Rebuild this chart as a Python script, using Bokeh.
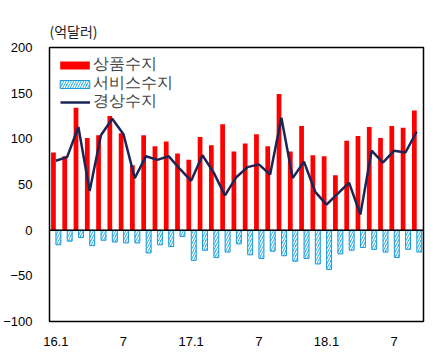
from bokeh.plotting import figure
from bokeh.models import ColumnDataSource, FixedTicker, Span, Legend, LegendItem
from bokeh.embed import file_html
from bokeh.resources import INLINE
from bokeh.transform import dodge

months = list(range(1, 34))
tick_positions = [1, 7, 13, 19, 25, 31]
tick_labels = ["16.1", "7", "17.1", "7", "18.1", "7"]

goods = [85, 81, 134, 101, 104, 125, 106, 71, 104, 92, 97, 84, 77, 102, 93, 116,
         86, 95, 105, 92, 149, 86, 114, 82, 81, 60, 98, 103, 113, 101, 114, 112, 131]
services = [-16, -12, -8, -17, -11, -13, -14, -14, -25, -16, -18, -7, -33, -22, -30, -24,
            -15, -27, -31, -23, -28, -34, -31, -37, -43, -26, -22, -19, -21, -24, -30, -21, -24]
current = [76, 80, 113, 43, 104, 122, 105, 57, 81, 77, 81, 67, 54, 82, 63, 38,
           58, 69, 72, 61, 123, 57, 75, 42, 28, 40, 52, 17, 87, 74, 87, 85, 108]

src = ColumnDataSource(dict(m=months, goods=goods, services=services, current=current))

p = figure(width=425, height=355, x_range=(0.44, 33.6), y_range=(-100, 200),
           output_backend="svg", toolbar_location=None,
           min_border_left=37, min_border_right=2, min_border_bottom=34, min_border_top=47)

r_goods = p.vbar(x=dodge("m", -0.21, range=p.x_range), top="goods", width=0.42, source=src,
                 fill_color="#FF0000", line_color=None)
r_serv = p.vbar(x=dodge("m", 0.23, range=p.x_range), top="services", width=0.44, source=src,
                fill_color="#35B4E6", line_color="#1E9AD6", line_width=1,
                hatch_pattern="/", hatch_color="white", hatch_scale=5, hatch_weight=1.3)
p.add_layout(Span(location=0, dimension="width", line_color="black", line_width=1.5))
r_cur = p.line(x="m", y="current", source=src, line_color="#1B2556", line_width=2.5)

p.title.text = "(억달러)"
p.title.align = "left"
p.title.text_font = "Noto Sans CJK KR"
p.title.text_font_size = "14px"
p.title.text_font_style = "normal"
p.title.text_color = "#222222"
p.title.standoff = 13

p.xgrid.visible = False
p.ygrid.visible = False
p.outline_line_color = "black"
p.outline_line_width = 1.5

p.xaxis.ticker = FixedTicker(ticks=tick_positions)
p.xaxis.major_label_overrides = {t: l for t, l in zip(tick_positions, tick_labels)}
p.yaxis.ticker = FixedTicker(ticks=[-100, -50, 0, 50, 100, 150, 200])
for ax in (p.xaxis[0], p.yaxis[0]):
    ax.axis_line_color = None
    ax.major_tick_line_color = None
    ax.minor_tick_line_color = None
    ax.major_label_text_font = "Liberation Sans"
    ax.major_label_text_font_size = "13px"
    ax.major_label_text_color = "black"
p.xaxis.major_label_standoff = 9
p.yaxis.major_label_standoff = 11

common = dict(margin=0, padding=0, label_height=18, label_text_font="Liberation Sans",
              label_text_font_size="16px", border_line_color=None, background_fill_alpha=0)
leg1 = Legend(items=[LegendItem(label="상품수지", renderers=[r_goods])],
              location=(7, 246), glyph_width=37, glyph_height=10, label_standoff=0, **common)
leg2 = Legend(items=[LegendItem(label="서비스수지", renderers=[r_serv])],
              location=(7, 227), glyph_width=37, glyph_height=10, label_standoff=0, **common)
leg3 = Legend(items=[LegendItem(label="경상수지", renderers=[r_cur])],
              location=(11, 209), glyph_width=30, glyph_height=10, label_standoff=3, **common)
for lg in (leg1, leg2, leg3):
    p.add_layout(lg)

open("out.html", "w").write(file_html(p, INLINE))
